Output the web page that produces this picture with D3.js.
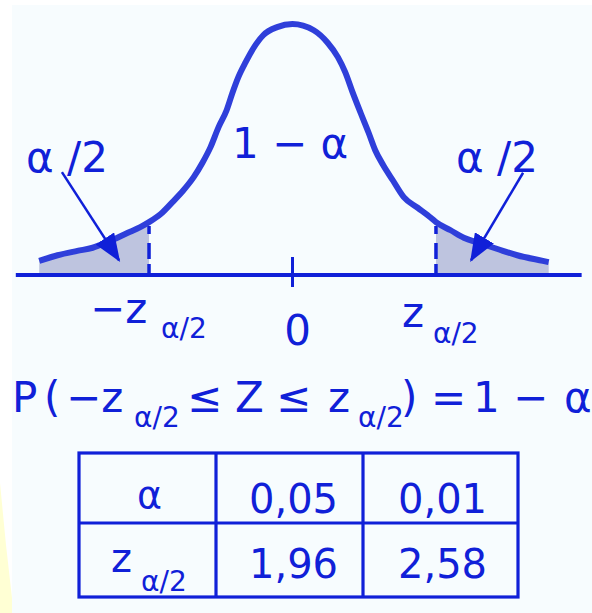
<!DOCTYPE html>
<html>
<head>
<meta charset="utf-8">
<script src="https://cdn.jsdelivr.net/npm/d3@7"></script>
<style>
  html, body { margin: 0; padding: 0; background: #ffffff; }
  svg { display: block; }
  text { font-family: "DejaVu Sans", Verdana, sans-serif; fill: #1020d8; }
</style>
</head>
<body>
<div id="chart"></div>
<script>
// bell curve: z position and height (density)
const curveZ = [-3.46, -3.21, -2.94, -2.73, -2.53, -2.25, -2.08, -1.96, -1.80, -1.64, -1.49,
  -1.35, -1.23, -1.12, -1.01, -0.90, -0.82, -0.74, -0.64, -0.53, -0.40, -0.21, 0,
  0.29, 0.48, 0.62, 0.72, 0.82, 0.93, 1.04, 1.13, 1.24, 1.37, 1.52, 1.71, 1.89, 1.96,
  2.16, 2.34, 2.54, 2.80, 3.07, 3.42, 3.50];
const curveDensity = [0.021, 0.030, 0.037, 0.042, 0.051, 0.066, 0.075, 0.083, 0.096, 0.115, 0.134,
  0.155, 0.178, 0.203, 0.235, 0.262, 0.290, 0.315, 0.339, 0.362, 0.382, 0.395, 0.400,
  0.390, 0.370, 0.347, 0.323, 0.291, 0.258, 0.226, 0.198, 0.174, 0.150, 0.123, 0.106, 0.090, 0.083,
  0.070, 0.058, 0.050, 0.040, 0.030, 0.021, 0.019];

const zCrit = 1.96;
const axisExtent = [-3.78, 3.95];
const tickValues = [0];

// arrows from the "α /2" labels to the tails: [z, density]
const arrowStart = [[-3.15, 0.163], [3.15, 0.162]];
const arrowEnd = [[-2.37, 0.022], [2.44, 0.022]];

// table
const rowHeads = ["α", "z"];
const alphaValues = ["0,05", "0,01"];
const zValues = ["1,96", "2,58"];

const W = 592, H = 613;
const blue = "#1020d8", curveBlue = "#2f3fda", shade = "#bec4df";

const svg = d3.select("#chart").append("svg")
  .attr("width", W).attr("height", H);

// page background + the yellow bit at the bottom left
svg.append("path")
  .attr("d", "M0,483 L6,545 L12,598 L12,613 L0,613 Z")
  .attr("fill", "#ffffd4");
svg.append("rect")
  .attr("x", 12).attr("y", 5).attr("width", W - 12).attr("height", H - 5)
  .attr("fill", "#f7fcfe");

// scales
const x = d3.scaleLinear().domain([-4, 4]).range([292.5 - 292.8, 292.5 + 292.8]);
const y = d3.scaleLinear().domain([0, 0.4]).range([274, 24]);

const points = curveZ.map((z, i) => ({ z: z, d: curveDensity[i] }));

// shaded tails
const area = d3.area()
  .x(p => x(p.z)).y0(y(0)).y1(p => y(p.d))
  .curve(d3.curveMonotoneX);
svg.append("path")
  .datum(points.filter(p => p.z <= -zCrit))
  .attr("d", area).attr("fill", shade);
svg.append("path")
  .datum(points.filter(p => p.z >= zCrit))
  .attr("d", area).attr("fill", shade);

// dashed critical lines
[-zCrit, zCrit].forEach(z => {
  const p = points.find(q => q.z === z);
  svg.append("line")
    .attr("x1", x(z)).attr("x2", x(z))
    .attr("y1", y(0)).attr("y2", y(p.d))
    .attr("stroke", blue).attr("stroke-width", 3.5)
    .attr("stroke-dasharray", "10,5,16,9,8");
});

// curve
const line = d3.line()
  .x(p => x(p.z)).y(p => y(p.d))
  .curve(d3.curveMonotoneX);
svg.append("path")
  .datum(points)
  .attr("d", line)
  .attr("fill", "none")
  .attr("stroke", curveBlue)
  .attr("stroke-width", 6)
  .attr("stroke-linejoin", "round");

// axis line and tick
svg.append("line")
  .attr("x1", x(axisExtent[0])).attr("x2", x(axisExtent[1]))
  .attr("y1", y(0) + 1).attr("y2", y(0) + 1)
  .attr("stroke", blue).attr("stroke-width", 4);
svg.selectAll(".tick")
  .data(tickValues)
  .join("line")
  .attr("class", "tick")
  .attr("x1", d => x(d)).attr("x2", d => x(d))
  .attr("y1", y(0) - 17).attr("y2", y(0) + 13)
  .attr("stroke", blue).attr("stroke-width", 3);

// arrows
svg.append("defs").append("marker")
  .attr("id", "head")
  .attr("markerUnits", "userSpaceOnUse")
  .attr("viewBox", "0 -11 28 22")
  .attr("markerWidth", 28).attr("markerHeight", 22)
  .attr("refX", 26).attr("refY", 0)
  .attr("orient", "auto")
  .append("path")
  .attr("d", "M0,-11 L28,0 L0,11 Z")
  .attr("fill", blue);
arrowStart.forEach((s, i) => {
  const e = arrowEnd[i];
  svg.append("line")
    .attr("x1", x(s[0])).attr("y1", y(s[1]))
    .attr("x2", x(e[0])).attr("y2", y(e[1]))
    .attr("stroke", blue).attr("stroke-width", 2.5)
    .attr("marker-end", "url(#head)");
});

// helper: text made of pieces, some as subscripts
function rich(parts, base, subBase, size, subSize) {
  const t = svg.append("text");
  parts.forEach(p => {
    t.append("tspan")
      .attr("x", p.x)
      .attr("y", p.sub ? subBase : base)
      .style("font-size", (p.sub ? subSize : size) + "px")
      .text(p.t);
  });
  return t;
}

// curve labels
rich([{ t: "α /2", x: 26 }], 172, 0, 42, 28);
rich([{ t: "α /2", x: 456 }], 172, 0, 42, 28);
rich([{ t: "1 − α", x: 232 }], 158, 0, 42, 28);

// axis labels
rich([{ t: "−z", x: x(-zCrit) - 59 }, { t: "α/2", x: x(-zCrit) + 12, sub: true }], 323, 338, 42, 28);
svg.append("text")
  .attr("x", x(0) + 5).attr("y", 345)
  .attr("text-anchor", "middle")
  .style("font-size", "42px")
  .text("0");
rich([{ t: "z", x: x(zCrit) - 34 }, { t: "α/2", x: x(zCrit) - 3, sub: true }], 327, 343, 42, 28);

// formula
rich([
  { t: "P", x: 12 }, { t: "(", x: 44 }, { t: "−z", x: 66 }, { t: "α/2", x: 134, sub: true },
  { t: "≤", x: 187 }, { t: "Z", x: 235 }, { t: "≤", x: 276 }, { t: "z", x: 328 },
  { t: "α/2", x: 358, sub: true }, { t: ")", x: 401 }, { t: "=", x: 431 },
  { t: "1", x: 473 }, { t: "−", x: 513 }, { t: "α", x: 564 }
], 412, 427, 42, 28);

// table
const colEdges = [79, 216, 363, 518];
const rowEdges = [453, 523, 597];
const table = svg.append("g");
table.append("rect")
  .attr("x", colEdges[0]).attr("y", rowEdges[0])
  .attr("width", colEdges[3] - colEdges[0]).attr("height", rowEdges[2] - rowEdges[0])
  .attr("fill", "none").attr("stroke", blue).attr("stroke-width", 3.2);
[colEdges[1], colEdges[2]].forEach(cx => {
  table.append("line")
    .attr("x1", cx).attr("x2", cx).attr("y1", rowEdges[0]).attr("y2", rowEdges[2])
    .attr("stroke", blue).attr("stroke-width", 3.2);
});
table.append("line")
  .attr("x1", colEdges[0]).attr("x2", colEdges[3]).attr("y1", rowEdges[1]).attr("y2", rowEdges[1])
  .attr("stroke", blue).attr("stroke-width", 3.2);

const mid = i => (colEdges[i] + colEdges[i + 1]) / 2;
table.append("text")
  .attr("x", mid(0) + 2).attr("y", 508)
  .attr("text-anchor", "middle").style("font-size", "38px")
  .text(rowHeads[0]);
rich([{ t: rowHeads[1], x: 111 }, { t: "α/2", x: 141, sub: true }], 572, 591, 40, 28);

[alphaValues, zValues].forEach((vals, r) => {
  vals.forEach((v, c) => {
    table.append("text")
      .attr("x", mid(c + 1) + (c === 0 ? 4 : 2))
      .attr("y", r === 0 ? 513 : 578)
      .attr("text-anchor", "middle")
      .style("font-size", "40px")
      .text(v);
  });
});
</script>
</body>
</html>
